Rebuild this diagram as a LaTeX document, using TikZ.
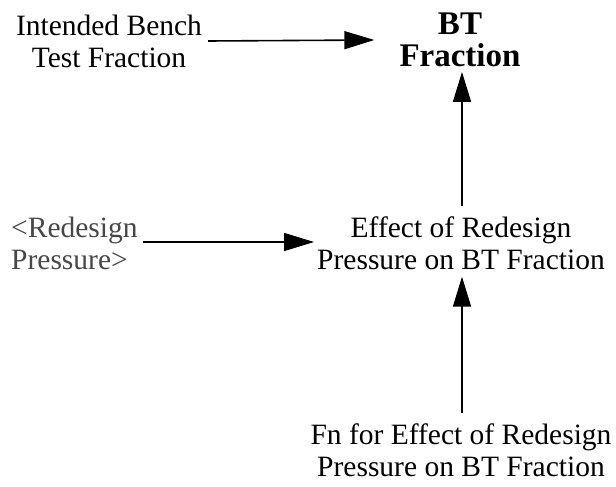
\documentclass[tikz,border=0pt]{standalone}
\usepackage{fontspec}
\setmainfont{Liberation Serif}
\usetikzlibrary{arrows.meta}
\begin{document}
\begin{tikzpicture}[x=1pt,y=-1pt,
  lbl/.style={font=\fontsize{29.5}{32}\selectfont, align=center, inner sep=0pt},
  ttl/.style={font=\fontsize{33}{31.5}\bfseries\selectfont, align=center, inner sep=0pt},
  shadowvar/.style={text=black!72, align=left},
  arr/.style={line width=1.6pt, -{Triangle[length=30pt,width=18pt]}}]
\useasboundingbox (0,0) rectangle (616,487);

% variables
\node[lbl] (ibt) at (109,41) {Intended Bench\\Test Fraction};
\node[ttl] (bt) at (460,40) {BT\\Fraction};
\node[lbl, shadowvar, anchor=west] (rp) at (11,243) {<Redesign\\Pressure>};
\node[lbl] (eff) at (461,243) {Effect of Redesign\\Pressure on BT Fraction};
\node[lbl] (fn) at (461,450) {Fn for Effect of Redesign\\Pressure on BT Fraction};

% links
\draw[arr] ([xshift=6pt]ibt.east) -- ([xshift=-25pt]bt.west);
\draw[arr] ([xshift=5pt,yshift=1pt]rp.east) -- ([xshift=-3pt,yshift=1pt]eff.west);
\draw[arr] ([xshift=1pt,yshift=10pt]eff.north) -- ([xshift=2pt,yshift=-5pt]bt.south);
\draw[arr] ([xshift=1pt,yshift=10pt]fn.north) -- ([xshift=1pt,yshift=-7pt]eff.south);
\end{tikzpicture}
\end{document}
